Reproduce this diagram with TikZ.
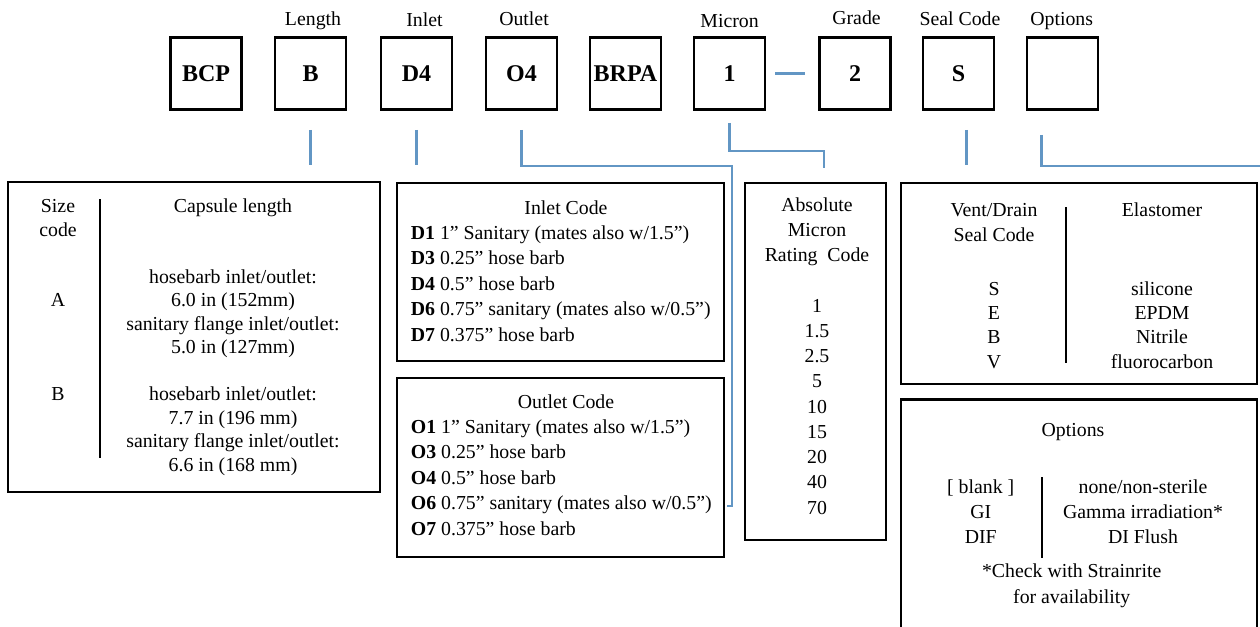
\documentclass[tikz,border=0pt]{standalone}
\usepackage{fontspec}
\setmainfont{Liberation Serif}
\definecolor{lineblue}{RGB}{98,150,196}

\begin{document}
\begin{tikzpicture}[x=1pt,y=-1pt,
  code/.style={draw, line width=2.7pt, minimum width=71pt, minimum height=72pt, inner sep=0pt, font=\fontsize{24}{28}\selectfont\bfseries},
  panel/.style={draw, line width=2.7pt, inner sep=0pt},
  txt/.style={anchor=base, yshift=-6pt, inner sep=0pt, font=\fontsize{19.8}{24}\selectfont},
  ltxt/.style={txt, anchor=base west},
  conn/.style={draw=lineblue, line width=2.4pt},
  sep/.style={draw, line width=2.4pt}]
\useasboundingbox (0,0) rectangle (1260,626);
\clip (0,0) rectangle (1260,626);

% part number boxes
\node[code] (bcp) at (206,73.5) {BCP};
\node[code] (len) at (310.5,73.5) {B};
\node[code] (inl) at (416.5,73.5) {D4};
\node[code] (out) at (521.5,73.5) {O4};
\node[code] (brpa) at (625.5,73.5) {BRPA};
\node[code] (mic) at (729.5,73.5) {1};
\node[code] (grd) at (855,73.5) {2};
\node[code] (seal) at (958.5,73.5) {S};
\node[code] (opt) at (1062.5,73.5) {};

\node[txt] (lenlab) at (313,20) {Length};
\node[txt] (inllab) at (424.5,21) {Inlet};
\node[txt] (outlab) at (524,20) {Outlet};
\node[txt] (miclab) at (729.6,22) {Micron};
\node[txt] (grdlab) at (856.5,19) {Grade};
\node[txt] (seallab) at (960,20) {Seal Code};
\node[txt] (optlab) at (1061.7,20) {Options};

% tables
\node[panel, minimum width=372pt, minimum height=310pt] (sizebox) at (194,337) {};
\node[panel, minimum width=327pt, minimum height=178pt] (inletbox) at (560.5,272) {};
\node[panel, minimum width=327pt, minimum height=179pt] (outletbox) at (560.5,467.4) {};
\node[panel, minimum width=141pt, minimum height=357pt] (microbox) at (815.5,361.5) {};
\node[panel, minimum width=356pt, minimum height=201pt] (sealbox) at (1079,283.5) {};
\node[panel, minimum width=356pt, minimum height=260pt] (optbox) at (1079,529.5) {};

% connectors
\coordinate (obend) at (732,166);
\coordinate (ohook) at (727,506);
\coordinate (mbend) at (824,151);
\coordinate (sdrop) at ([xshift=8pt]seal.south);
\coordinate (odrop) at ([xshift=-21pt]opt.south);
\coordinate (oend) at (1275,166);
\path[conn, shorten <=19pt, shorten >=16pt] (len.south) -- (len.south |- sizebox.north);
\path[conn, shorten <=19pt, shorten >=17pt] (inl.south) -- (inl.south |- inletbox.north);
\path[conn, shorten <=19pt] (out.south) |- (obend) |- (ohook);
\path[conn, shorten <=12pt, shorten >=14pt] (mic.south) |- (mbend) -- (mbend |- microbox.north);
\path[conn, shorten <=9pt, shorten >=13pt] (mic.east) -- (grd.west);
\path[conn, shorten <=19pt, shorten >=17pt] (sdrop) -- (sdrop |- sealbox.north);
\path[conn, shorten <=24pt] (odrop) |- (oend);

% size code
\path[sep] (100,199) -- (100,458);
\node[txt] (szhead) at (58,206.5) {Size};
\node[txt] (szcode) at (58,230) {code};
\node[txt] (sza) at (58,300.5) {A};
\node[txt] (szb) at (58,394.5) {B};
\node[txt] (caphead) at (233,206.5) {Capsule length};
\node[txt] (capa1) at (233,277) {hosebarb inlet/outlet:};
\node[txt] (capa2) at (233,300.5) {6.0 in (152mm)};
\node[txt] (capa3) at (233,324) {sanitary flange inlet/outlet:};
\node[txt] (capa4) at (233,347.5) {5.0 in (127mm)};
\node[txt] (capb1) at (233,394.5) {hosebarb inlet/outlet:};
\node[txt] (capb2) at (233,418) {7.7 in (196 mm)};
\node[txt] (capb3) at (233,441.5) {sanitary flange inlet/outlet:};
\node[txt] (capb4) at (233,465) {6.6 in (168 mm)};

% inlet code
\node[txt] (inhead) at (566,208) {Inlet Code};
\node[ltxt] (d1) at (410.7,233) {\textbf{D1} 1” Sanitary (mates also w/1.5”)};
\node[ltxt] (d3) at (410.7,258.5) {\textbf{D3} 0.25” hose barb};
\node[ltxt] (d4) at (410.7,284) {\textbf{D4} 0.5” hose barb};
\node[ltxt] (d6) at (410.7,309.5) {\textbf{D6} 0.75” sanitary (mates also w/0.5”)};
\node[ltxt] (d7) at (410.7,335) {\textbf{D7} 0.375” hose barb};

% outlet code
\node[txt] (outhead) at (566,402) {Outlet Code};
\node[ltxt] (o1) at (410.7,427) {\textbf{O1} 1” Sanitary (mates also w/1.5”)};
\node[ltxt] (o3) at (410.7,452.5) {\textbf{O3} 0.25” hose barb};
\node[ltxt] (o4) at (410.7,478) {\textbf{O4} 0.5” hose barb};
\node[ltxt] (o6) at (410.7,503.5) {\textbf{O6} 0.75” sanitary (mates also w/0.5”)};
\node[ltxt] (o7) at (410.7,529) {\textbf{O7} 0.375” hose barb};

% micron rating
\node[txt] (mhead1) at (817,205) {Absolute};
\node[txt] (mhead2) at (817,230.25) {Micron};
\node[txt] (mhead3) at (817,255.5) {Rating~ Code};
\node[txt] (m1) at (817,306) {1};
\node[txt] (m15) at (817,331.25) {1.5};
\node[txt] (m25) at (817,356.5) {2.5};
\node[txt] (m5) at (817,381.75) {5};
\node[txt] (m10) at (817,407) {10};
\node[txt] (m15b) at (817,432.25) {15};
\node[txt] (m20) at (817,457.5) {20};
\node[txt] (m40) at (817,482.75) {40};
\node[txt] (m70) at (817,508) {70};

% seal code
\path[sep] (1066,207) -- (1066,363);
\node[txt] (shead1) at (994,210) {Vent/Drain};
\node[txt] (shead2) at (994,235) {Seal Code};
\node[txt] (ss) at (994,289) {S};
\node[txt] (se) at (994,313) {E};
\node[txt] (sb) at (994,337) {B};
\node[txt] (sv) at (994,362) {V};
\node[txt] (ehead) at (1162,210) {Elastomer};
\node[txt] (esil) at (1162,289) {silicone};
\node[txt] (eepdm) at (1162,313) {EPDM};
\node[txt] (enit) at (1162,337) {Nitrile};
\node[txt] (efluo) at (1162,362) {fluorocarbon};

% options
\path[sep] (1042,477) -- (1042,558);
\node[txt] (ophead) at (1073,430) {Options};
\node[txt] (opblank) at (980.7,487) {[ blank ]};
\node[txt] (opgi) at (980.7,512) {GI};
\node[txt] (opdif) at (980.7,537) {DIF};
\node[txt] (opnone) at (1143,487) {none/non-sterile};
\node[txt] (opgamma) at (1143,512) {Gamma irradiation*};
\node[txt] (opflush) at (1143,537) {DI Flush};
\node[txt] (opnote1) at (1071.7,571) {*Check with Strainrite};
\node[txt] (opnote2) at (1071.7,597) {for availability};
\end{tikzpicture}
\end{document}
